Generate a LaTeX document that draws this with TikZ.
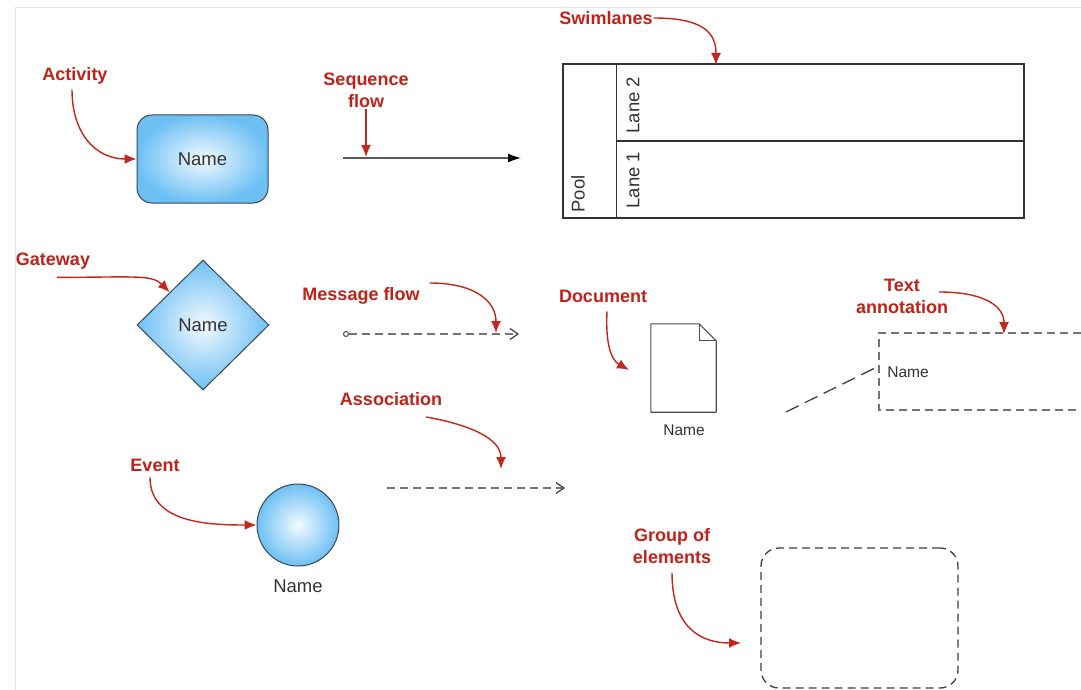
\documentclass[tikz,border=0pt]{standalone}
\usepackage{fontspec}
\setmainfont{Liberation Sans}
\usetikzlibrary{arrows.meta,shapes.geometric}
\definecolor{lblred}{HTML}{C0221A}
\definecolor{arrred}{HTML}{C4261C}
\definecolor{blueout}{HTML}{6EC0F4}
\definecolor{bluein}{HTML}{F2FAFE}
\definecolor{edgec}{HTML}{3A4652}
\definecolor{txtc}{HTML}{333333}
\tikzset{
  lbl/.style={text=lblred, font=\bfseries\fontsize{18}{22}\selectfont, align=center, inner sep=1pt},
  redarrow/.style={draw=arrred, line width=1.4pt, -{Latex[length=12pt,width=10pt]}},
  bluefill/.style={draw=edgec, line width=1pt, inner color=bluein, outer color=blueout},
  nametxt/.style={text=txtc, font=\fontsize{18.5}{22}\selectfont},
  smalltxt/.style={text=txtc, font=\fontsize{15.5}{18}\selectfont},
  poolline/.style={draw=black!80, line width=1.3pt},
  dashgray/.style={draw=black!55, line width=1.3pt, dash pattern=on 8pt off 5pt},
  openhead/.style={-{Straight Barb[length=8pt,width=11pt,black!75,line width=1.2pt]}},
}
\begin{document}
\begin{tikzpicture}[x=1pt,y=-1pt]
\useasboundingbox (0,0) rectangle (1081,690);
\fill[white] (0,0) rectangle (1081,690);
% faint page edges
\draw[black!10, line width=0.8pt] (15,690) -- (15,7) -- (1081,7);

% ---------- Activity ----------
\node[lbl] (lact) at (75,76) {Activity};
\node[bluefill, rounded corners=15pt, minimum width=131pt, minimum height=88pt, nametxt] (act) at (202.5,159) {Name};
\draw[redarrow] ([xshift=-3pt,yshift=-4pt]lact.south) .. controls +(0,45) and +(-40,0) .. (act.west);

% ---------- Sequence flow ----------
\node[lbl] (lseq) at (366,90) {Sequence\\flow};
\coordinate (sf1) at (343,158);
\coordinate (sf2) at (521,158);
\coordinate (sfhit) at (366,157);
\draw[black!65, line width=1.4pt, -{Latex[length=13pt,width=9pt,black]}] (sf1) -- (sf2);
\draw[redarrow] (lseq.south) -- (sfhit);

% ---------- Swimlanes ----------
\node[lbl] (lswim) at (606,18) {Swimlanes};
\node[poolline, minimum width=461pt, minimum height=154pt, inner sep=0pt] (pool) at (793.5,141) {};
\draw[poolline] ([xshift=54pt]pool.north west) -- ([xshift=54pt]pool.south west);
\draw[poolline] ([xshift=54pt]pool.west) -- (pool.east);
\node[nametxt, rotate=90] (tpool) at (578,194) {Pool};
\node[nametxt, rotate=90] (tlane2) at (633,105) {Lane 2};
\node[nametxt, rotate=90] (tlane1) at (633,180) {Lane 1};
\coordinate (swimhit) at (716,65);
\draw[redarrow] (lswim.east) .. controls +(50,0) and +(0,-32) .. (swimhit);

% ---------- Gateway ----------
\node[lbl] (lgate) at (53,261) {Gateway};
\node[bluefill, diamond, minimum width=132pt, minimum height=130pt, inner sep=0pt, nametxt] (gw) at (203,325) {Name};
\draw[redarrow] ([xshift=4pt,yshift=-7pt]lgate.south) .. controls +(75,0) and +(-18,-18) .. (gw.north west);

% ---------- Message flow ----------
\node[lbl] (lmsg) at (361,296) {Message flow};
\coordinate (mf1) at (343,334);
\coordinate (mf2) at (519,334);
\coordinate (mfhit) at (496,333);
\draw[dashgray, {Circle[open,length=6pt,width=6pt,black!70,line width=1pt]}-{Straight Barb[length=8pt,width=11pt,black!75,line width=1.2pt]}] (mf1) -- (mf2);
\draw[redarrow] ([xshift=9pt,yshift=13pt]lmsg.east) .. controls +(45,0) and +(0,-32) .. (mfhit);

% ---------- Association ----------
\node[lbl] (lassoc) at (391,399) {Association};
\coordinate (as1) at (387,488);
\coordinate (as2) at (565,488);
\coordinate (ashit) at (501,469);
\draw[dashgray, openhead] (as1) -- (as2);
\draw[redarrow] ([xshift=-17pt,yshift=-18pt]lassoc.east) .. controls +(45,8) and +(0,-30) .. (ashit);

% ---------- Event ----------
\node[lbl] (lev) at (155,465) {Event};
\node[bluefill, circle, minimum size=82pt, inner sep=0pt] (ev) at (298,525) {};
\node[nametxt] (evname) at (298,586) {Name};
\draw[redarrow] ([xshift=-5pt,yshift=-5pt]lev.south) .. controls +(0,45) and +(-50,0) .. (ev.west);

% ---------- Document ----------
\node[lbl] (ldoc) at (603,296) {Document};
\node[minimum width=65pt, minimum height=88pt, inner sep=0pt] (doc) at (683.5,368) {};
\draw[black!70, line width=1.1pt, line join=round] (doc.north west) -- ([xshift=-17pt]doc.north east) -- ([yshift=-17pt]doc.north east) -- (doc.south east) -- (doc.south west) -- cycle;
\draw[black!70, line width=0.9pt] ([xshift=-17pt]doc.north east) -- ([xshift=-17pt,yshift=-17pt]doc.north east) -- ([yshift=-17pt]doc.north east);
\node[smalltxt] (docname) at (684,430) {Name};
\coordinate (dochit) at (629,370);
\draw[redarrow] ([xshift=4pt,yshift=-8pt]ldoc.south) .. controls +(-2,42) and +(-14,-8) .. (dochit);

% ---------- Text annotation ----------
\node[lbl] (lann) at (902,296) {Text\\annotation};
\coordinate (annTR) at (1081,333);
\coordinate (annTL) at (879,333);
\coordinate (annBL) at (879,410);
\coordinate (annBR) at (1081,410);
\coordinate (annL) at (879,366);
\coordinate (annfree) at (786,412);
\draw[dashgray, line width=1.3pt] (annTR) -- (annTL) -- (annBL) -- (annBR);
\node[smalltxt] (annname) at (908,372) {Name};
\draw[black!75, line width=1.3pt, dash pattern=on 14pt off 7pt] (annfree) -- (annL);
\coordinate (annhit) at (1004,334);
\draw[redarrow] ([xshift=-10pt,yshift=4pt]lann.east) .. controls +(45,0) and +(0,-28) .. (annhit);

% ---------- Group ----------
\node[lbl] (lgrp) at (672,546) {Group of\\elements};
\node[draw=black!75, line width=1.3pt, dash pattern=on 8pt off 5pt, rounded corners=18pt, minimum width=197pt, minimum height=140pt, inner sep=0pt] (grp) at (859.5,618) {};
\coordinate (grphit) at (741,643);
\draw[redarrow] ([yshift=-8pt]lgrp.south) .. controls +(0,55) and +(-40,0) .. (grphit);
\end{tikzpicture}
\end{document}
